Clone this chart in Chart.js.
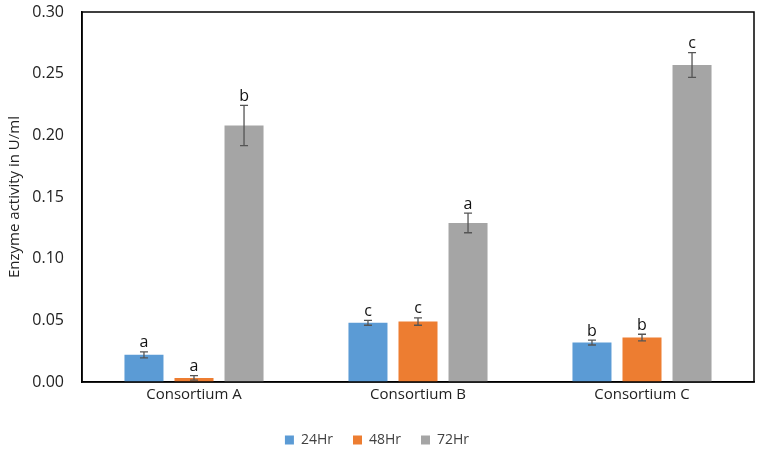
<!DOCTYPE html>
<html>
<head>
<meta charset="utf-8">
<script src="https://cdn.jsdelivr.net/npm/chart.js@4/dist/chart.umd.min.js"></script>
<style>
html,body{margin:0;padding:0;background:#fff;}
#wrap{width:765px;height:461px;position:relative;}
</style>
</head>
<body>
<div id="wrap"><canvas id="c" width="765" height="461"></canvas></div>
<script>
const categories = ["Consortium A", "Consortium B", "Consortium C"];
const seriesNames = ["24Hr", "48Hr", "72Hr"];
const values24 = [0.022, 0.048, 0.032];
const values48 = [0.0033, 0.049, 0.036];
const values72 = [0.208, 0.129, 0.257];
const errors24 = [0.0025, 0.002, 0.002];
const errors48 = [0.0018, 0.003, 0.0027];
const errors72 = [0.0163, 0.008, 0.010];
const letters24 = ["a", "c", "b"];
const letters48 = ["a", "c", "b"];
const letters72 = ["b", "a", "c"];
const colors = ["#5B9BD5", "#ED7D31", "#A5A5A5"];
const yTicks = [0, 0.05, 0.10, 0.15, 0.20, 0.25, 0.30];

const FONT = "'Open Sans', 'DejaVu Sans', sans-serif";

const errorBarPlugin = {
  id: 'errorBars',
  afterDatasetsDraw(chart) {
    const ctx = chart.ctx;
    const y = chart.scales.y;
    ctx.save();
    chart.data.datasets.forEach((ds, di) => {
      const meta = chart.getDatasetMeta(di);
      meta.data.forEach((bar, i) => {
        const v = ds.data[i];
        const e = ds.errors[i];
        const yTop = y.getPixelForValue(v + e);
        const yBot = y.getPixelForValue(v - e);
        const x = bar.x;
        ctx.strokeStyle = '#555555';
        ctx.lineWidth = 1.3;
        ctx.beginPath();
        ctx.moveTo(x, yTop); ctx.lineTo(x, yBot);
        ctx.moveTo(x - 4, yTop); ctx.lineTo(x + 4, yTop);
        ctx.moveTo(x - 4, yBot); ctx.lineTo(x + 4, yBot);
        ctx.stroke();
        ctx.fillStyle = '#111111';
        ctx.font = "16px " + FONT;
        ctx.textAlign = 'center';
        ctx.textBaseline = 'bottom';
        ctx.fillText(ds.letters[i], x, yTop - 1);
      });
    });
    ctx.restore();
  }
};

const frameplugin = {
  id: 'frame',
  afterDraw(chart) {
    const a = chart.chartArea;
    const ctx = chart.ctx;
    ctx.save();
    ctx.strokeStyle = '#000000';
    ctx.lineWidth = 1.5;
    ctx.strokeRect(a.left, a.top, a.right - a.left, a.bottom - a.top);
    ctx.restore();
  }
};

new Chart(document.getElementById('c'), {
  type: 'bar',
  data: {
    labels: categories,
    datasets: [
      {label: seriesNames[0], data: values24, errors: errors24, letters: letters24, backgroundColor: colors[0]},
      {label: seriesNames[1], data: values48, errors: errors48, letters: letters48, backgroundColor: colors[1]},
      {label: seriesNames[2], data: values72, errors: errors72, letters: letters72, backgroundColor: colors[2]}
    ]
  },
  options: {
    responsive: false,
    animation: false,
    devicePixelRatio: 1,
    barPercentage: 0.78,
    categoryPercentage: 0.67,
    layout: {padding: {left: 0, right: 11, top: 0, bottom: 4}},
    plugins: {
      legend: {
        position: 'bottom',
        labels: {
          boxWidth: 9, boxHeight: 9, padding: 20,
          color: '#404040',
          font: {family: FONT, size: 14}
        }
      },
      tooltip: {enabled: false}
    },
    scales: {
      x: {
        grid: {display: false, drawTicks: false},
        border: {display: true, color: '#000', width: 1.5},
        ticks: {color: '#222', font: {family: FONT, size: 15}, padding: 4},
        afterFit(s) { s.height = 31; }
      },
      y: {
        min: 0, max: 0.30,
        afterBuildTicks(s) { s.ticks = yTicks.map(v => ({value: v})); },
        grid: {display: false, drawTicks: false},
        border: {display: true, color: '#000', width: 1.5},
        ticks: {
          color: '#222', font: {family: FONT, size: 16}, padding: 18,
          callback: v => Number(v).toFixed(2)
        },
        title: {display: true, text: 'Enzyme activity in U/ml', color: '#222', font: {family: FONT, size: 15}, padding: {top: 6, bottom: 4}},
        afterFit(s) { s.width = 82; s.paddingTop = 12; s.paddingBottom = 8; }
      }
    }
  },
  plugins: [errorBarPlugin, frameplugin]
});
</script>
</body>
</html>
